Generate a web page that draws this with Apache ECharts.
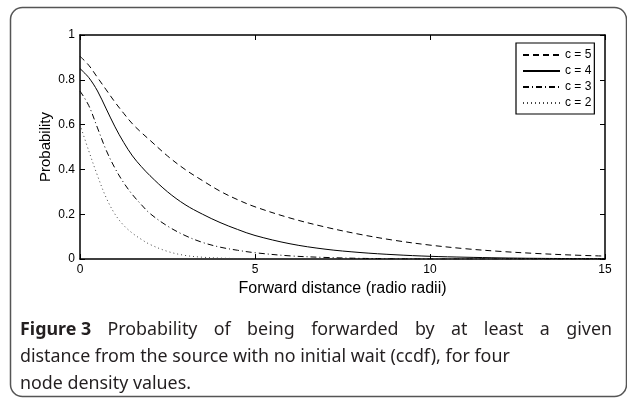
<!DOCTYPE html>
<html><head><meta charset="utf-8">
<script src="https://cdn.jsdelivr.net/npm/echarts@6/dist/echarts.min.js"></script>
<style>html,body{margin:0;padding:0;background:#fff;}#c{width:627px;height:401px;}</style>
</head><body><div id="c"></div>
<script>
// ---- data ----
const distance = [0,0.25,0.5,0.75,1,1.25,1.5,1.75,2,2.5,3,3.5,4,4.5,5,6,7,8,9,10,11,12,13,14,15];
const probC5 = [0.905,0.865,0.81,0.755,0.70,0.65,0.603,0.565,0.53,0.46,0.40,0.35,0.303,0.265,0.233,0.183,0.143,0.11,0.083,0.062,0.046,0.034,0.025,0.018,0.013];
const probC4 = [0.85,0.81,0.75,0.67,0.59,0.52,0.46,0.413,0.372,0.30,0.243,0.20,0.163,0.132,0.105,0.068,0.044,0.029,0.019,0.012,0.008,0.005,0.003,0.002,0.001];
const probC3 = [0.75,0.685,0.585,0.485,0.405,0.34,0.287,0.243,0.203,0.147,0.105,0.074,0.053,0.039,0.028,0.014,0.007,0.003,0.001,0,0,0,0,0,0];
const probC2 = [0.60,0.483,0.372,0.273,0.20,0.15,0.115,0.088,0.065,0.034,0.016,0.008,0.004,0.002,0.001,0,0,0,0,0,0,0,0,0,0];
const seriesNames = ['c = 5','c = 4','c = 3','c = 2'];
const xTicks = [0,5,10,15];
const yTicks = [0,0.2,0.4,0.6,0.8,1];
const xLabel = 'Forward distance (radio radii)';
const yLabel = 'Probability';
const captionBold = 'Figure 3';
const captionLine1 = 'Probability of being forwarded by at least a given';
const captionLine2 = 'distance from the source with no initial wait (ccdf), for four';
const captionLine3 = 'node density values.';

const pairs = arr => distance.map((d,i)=>[d,arr[i]]);
const styles = [
  {type:[6,4], color:'#000'},
  {type:'solid', color:'#000'},
  {type:[6,3,1,3], color:'#000'},
  {type:[1,3], color:'#444'}
];
const values = [probC5, probC4, probC3, probC2];
const helv = "'Liberation Sans', Arial, Helvetica, sans-serif";

const chart = echarts.init(document.getElementById('c'), null, {renderer:'canvas'});

// caption layout (justify line 1, fit line 2 width)
const capFont = "'Noto Sans', sans-serif";
const ctx = document.createElement('canvas').getContext('2d');
ctx.font = '20px ' + capFont;
const capSize = +(20 * 490 / ctx.measureText(captionLine2).width).toFixed(2);
const capLeft = 20, capRight = 612;
const capColor = '#231f20';
const graphics = [];
graphics.push({type:'rect', silent:true, shape:{x:10.5,y:7.5,width:616,height:389,r:12},
  style:{fill:'none', stroke:'#555', lineWidth:1.5}});
const words1 = [{t:captionBold, b:true}].concat(captionLine1.split(' ').map(t=>({t, b:false})));
let total = 0;
words1.forEach(w=>{ ctx.font = (w.b?'bold ':'') + capSize + 'px ' + capFont; w.w = ctx.measureText(w.t).width; total += w.w; });
const gap = (capRight - capLeft - total) / (words1.length - 1);
let xx = capLeft;
words1.forEach(w=>{
  graphics.push({type:'text', x:xx, y:330, silent:true,
    style:{text:w.t, fill:capColor, font:(w.b?'bold ':'')+capSize+'px '+capFont, verticalAlign:'middle'}});
  xx += w.w + gap;
});
[captionLine2, captionLine3].forEach((t,i)=>{
  graphics.push({type:'text', x:capLeft, y:357+27*i, silent:true,
    style:{text:t, fill:capColor, font:capSize+'px '+capFont, verticalAlign:'middle'}});
});

const axisCommon = {
  min:0,
  axisLine:{show:true, onZero:false, lineStyle:{color:'#000', width:1.5}},
  axisTick:{show:true, inside:true, length:5, lineStyle:{color:'#000'}},
  splitLine:{show:false},
  axisLabel:{color:'#000', fontFamily:helv, fontSize:12}
};

const option = {
  animation:false,
  backgroundColor:'#fff',
  grid:{left:80, right:22, top:35, bottom:142},
  legend:{
    orient:'vertical', left:516, top:43,
    data:seriesNames,
    backgroundColor:'#fff', borderColor:'#000', borderWidth:1.2,
    padding:[6,3,5,6], itemGap:4, itemWidth:37, itemHeight:14,
    itemStyle:{color:'rgba(0,0,0,0)', borderWidth:0},
    textStyle:{color:'#000', fontFamily:helv, fontSize:12}
  },
  xAxis:[
    Object.assign({}, axisCommon, {type:'value', max:15, interval:5, position:'bottom',
      name:xLabel, nameLocation:'middle', nameGap:22, nameMoveOverlap:false,
      nameTextStyle:{color:'#000', fontFamily:helv, fontSize:16},
      axisLabel:Object.assign({}, axisCommon.axisLabel, {margin:5})}),
    Object.assign({}, axisCommon, {type:'value', max:15, interval:5, position:'top', axisLabel:{show:false}})
  ],
  yAxis:[
    Object.assign({}, axisCommon, {type:'value', max:1, interval:0.2, position:'left',
      name:yLabel, nameLocation:'middle', nameGap:27, nameMoveOverlap:false,
      nameTextStyle:{color:'#000', fontFamily:helv, fontSize:15},
      axisLabel:Object.assign({}, axisCommon.axisLabel, {margin:5})}),
    Object.assign({}, axisCommon, {type:'value', max:1, interval:0.2, position:'right', axisLabel:{show:false}})
  ],
  series: seriesNames.map((n,i)=>({
    name:n, type:'line', data:pairs(values[i]), smooth:0.35,
    symbol:'none', showSymbol:false,
    lineStyle:{width:1, type:styles[i].type, color:styles[i].color},
    itemStyle:{color:'rgba(0,0,0,0)', borderWidth:0},
    z:2
  })),
  graphic: graphics
};
chart.setOption(option);
</script>
</body></html>
